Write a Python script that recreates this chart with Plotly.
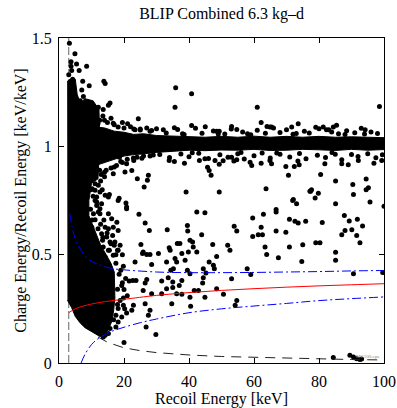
import plotly.graph_objects as go

# ---------------- data ----------------
# dense low-energy event mass (outline of solid-black region)
mass_x = [2.5, 5.0, 5.6, 6.5, 8.0, 10.5, 12.3, 12.5, 12.3, 12.0, 10.0, 9.2, 9.2, 10.5, 11.5,
          12.8, 14.5, 16.0, 17.0, 17.2, 17.2, 16.8, 16.2, 15.2, 14.0, 12.6, 11.0, 9.5, 8.0,
          6.5, 5.0, 3.9, 2.6]
mass_y = [1.30, 1.31, 1.24, 1.20, 1.22, 1.21, 1.17, 1.05, 0.95, 0.85, 0.83, 0.75, 0.68, 0.63, 0.60,
          0.545, 0.50, 0.46, 0.42, 0.36, 0.30, 0.24, 0.19, 0.155, 0.13, 0.122, 0.135, 0.148, 0.163,
          0.185, 0.215, 0.255, 0.29]

# electron-recoil band near 1 keV/keV (outline of solid core)
band_x = [11, 14, 17, 20, 23, 26, 30, 35, 40, 45, 50, 55, 60, 65, 70, 75, 80, 85, 90, 95, 100,
          100, 95, 90, 85, 80, 75, 70, 65, 60, 55, 50, 45, 40, 35, 30, 26, 23, 20, 17, 14, 11]
band_y = [1.09, 1.085, 1.07, 1.065, 1.055, 1.058, 1.05, 1.048, 1.045, 1.042, 1.046, 1.042, 1.047,
          1.042, 1.046, 1.042, 1.046, 1.042, 1.044, 1.042, 1.04,
          0.985, 0.982, 0.986, 0.981, 0.984, 0.986, 0.982, 0.981, 0.986, 0.982, 0.983, 0.98, 0.982,
          0.978, 0.972, 0.965, 0.962, 0.955, 0.94, 0.925, 0.91]

# fringe events around the band
fringe_x = [33, 36.5, 38, 42, 44, 47.5, 51, 53, 56.5, 58, 61, 63.5, 66, 68, 70, 73, 75.5, 77,
            80, 83, 86, 88.5, 91, 93, 96, 98, 38.5, 49, 59, 72, 88, 94, 45, 64, 79,
            31, 34, 37.5, 40, 43, 46, 49.5, 52, 55, 57, 60, 62.5, 65, 68, 71, 74, 76, 79.5, 82,
            85, 87, 90, 92, 95, 97.5, 99.5, 41, 56, 67, 84, 35.5, 50.5, 73.5,
            12.5, 13.5, 16, 19.5, 22, 25, 27, 13, 14.5, 16, 19, 21, 24, 26, 29,
            12, 14, 17, 20, 23, 25, 28, 12.5, 14, 17, 19.5, 23, 25.5, 28]
fringe_y = [1.062, 1.078, 1.058, 1.083, 1.06, 1.071, 1.057, 1.08, 1.066, 1.058, 1.074, 1.06, 1.085,
            1.064, 1.076, 1.059, 1.07, 1.062, 1.081, 1.077, 1.058, 1.072, 1.063, 1.084, 1.066, 1.059,
            1.055, 1.057, 1.054, 1.056, 1.055, 1.057, 1.09, 1.092, 1.088,
            0.962, 0.948, 0.965, 0.952, 0.968, 0.944, 0.961, 0.95, 0.966, 0.941, 0.957, 0.969,
            0.946, 0.963, 0.951, 0.967, 0.943, 0.959, 0.949, 0.964, 0.938, 0.962, 0.953, 0.966,
            0.947, 0.961, 0.97, 0.972, 0.969, 0.971, 0.93, 0.934, 0.932,
            1.12, 1.14, 1.13, 1.11, 1.09, 1.08, 1.085, 0.87, 0.89, 0.90, 0.93, 0.94, 0.95, 0.955, 0.96,
            1.105, 1.12, 1.10, 1.085, 1.08, 1.075, 1.07, 0.89, 0.88, 0.905, 0.925, 0.935, 0.945, 0.955]

# isolated events: high region (y > 1.1)
high_x = [3.2, 4.9, 3.7, 3.7, 5.4, 6.2, 3.9, 8.5, 7.3, 7.0, 9.3, 13.8, 14.2, 13.6, 15.2, 10.9,
          12.1, 15.7, 7.5, 6.5, 35.9, 35.7, 40.8, 61.0, 62.2, 98.6, 3.0, 4.2, 3.5,
          24.4, 21.1, 23.4, 18.2, 16.7, 14.9, 28.5, 30.0, 32.1, 35.5, 40.8, 53.1, 54.7, 48.5,
          49.3, 64.9, 73.6, 71.6, 81.3, 82.3, 84.4, 85.4, 83.9, 94.2, 65.4]
high_y = [1.476, 1.427, 1.39, 1.37, 1.38, 1.35, 1.35, 1.37, 1.30, 1.26, 1.28, 1.30, 1.29, 1.17,
          1.19, 1.18, 1.18, 1.20, 1.23, 1.21, 1.27, 1.18, 1.243, 1.18, 1.11, 1.184, 1.33, 1.31, 1.30,
          1.127, 1.104, 1.077, 1.089, 1.107, 1.11, 1.073, 1.081, 1.077, 1.086, 1.096, 1.092, 1.078,
          1.07, 1.07, 1.089, 1.104, 1.089, 1.089, 1.077, 1.089, 1.097, 1.066, 1.077, 1.089]

# isolated events: 0.75 - 0.95
mid_hi_x = [33.9, 38.6, 43.2, 44.9, 45.7, 46.2, 46.8, 48.0, 49.3, 53.1, 53.8, 54.7, 58.8, 59.3,
            62.2, 64.9, 39.1, 49.3, 63.7, 65.4, 69.8, 72.4, 73.9, 81.8, 87.0, 89.0, 92.1, 96.9,
            99.3, 70.6, 80.5, 85.1, 90.4, 94.5, 94.5, 95.2, 77.7, 77.2, 79.8, 78.8, 90.6, 72.1,
            27.5, 26.2, 24.1, 22.4, 20.3, 20.8, 17.7, 16.7, 15.2, 12.6, 11.6, 11.1, 22.9, 18.6,
            27.2, 13.3, 18.5, 14.2, 15.5, 77.4, 9.8, 10.5, 12.8, 14.0]
mid_hi_y = [0.935, 0.922, 0.935, 0.943, 0.904, 0.889, 0.866, 0.935, 0.917, 0.95, 0.932, 0.938,
            0.927, 0.912, 0.922, 0.935, 0.789, 0.789, 0.804, 0.92, 0.907, 0.907, 0.915, 0.92, 0.92,
            0.915, 0.935, 0.922, 0.935, 0.866, 0.870, 0.84, 0.824, 0.849, 0.80, 0.809, 0.80, 0.793,
            0.784, 0.761, 0.778, 0.755, 0.866, 0.812, 0.85, 0.889, 0.881, 0.92, 0.912, 0.874, 0.766,
            0.789, 0.766, 0.797, 0.946, 0.95, 0.843, 0.80, 0.76, 0.774, 0.778, 0.793, 0.80, 0.77,
            0.84, 0.86]

# isolated events: 0.48 - 0.75
mid_x = [18.2, 20.6, 20.8, 13.1, 12.6, 24.6, 42.4, 44.9, 26.5, 27.8, 33.3, 39.5, 39.6, 53.9, 54.7,
         15.2, 16.5, 14.7, 13.4, 17.2, 18.8, 25.2, 36.4, 37.2, 41.1, 47.3, 51.9, 40.3, 43.9,
         100.0, 95.7, 85.1, 71.9, 73.1, 66.8, 66.8, 62.9, 59.6, 62.2, 59.6, 61.3, 62.6, 66.8, 69.8,
         70.9, 72.6, 73.6, 75.9, 81.0, 87.8, 89.3, 91.8, 88.0, 90.1, 93.4, 87.0, 91.6, 92.6,
         11.1, 12.1, 10.2, 11.1, 11.6, 12.1, 10.6, 11.1, 10.1, 15.2, 16.2, 14.2, 16.7, 18.2, 17.8,
         13.1, 15.7, 17.0, 18.2, 13.6, 15.2, 16.7, 14.2, 20.8, 11.6, 12.6,
         9.7, 10.2, 12.0, 13.5, 12.8, 13.8, 14.8, 16.0, 17.5, 15.5]
mid_y = [0.75, 0.738, 0.712, 0.735, 0.689, 0.686, 0.697, 0.694, 0.646, 0.612, 0.615, 0.635, 0.609,
         0.631, 0.609, 0.62, 0.589, 0.581, 0.566, 0.558, 0.543, 0.547, 0.551, 0.551, 0.558, 0.547,
         0.543, 0.566, 0.592,
         0.723, 0.743, 0.735, 0.75, 0.735, 0.709, 0.697, 0.686, 0.669, 0.627, 0.584, 0.592, 0.592,
         0.609, 0.604, 0.663, 0.654, 0.646, 0.654, 0.648, 0.681, 0.655, 0.664, 0.612, 0.615, 0.632,
         0.592, 0.589, 0.555,
         0.827, 0.82, 0.804, 0.75, 0.727, 0.697, 0.689, 0.661, 0.627, 0.689, 0.666, 0.627, 0.627,
         0.612, 0.65, 0.597, 0.558, 0.543, 0.52, 0.535, 0.52, 0.497, 0.489, 0.72, 0.743, 0.712,
         0.71, 0.66, 0.62, 0.58, 0.64, 0.66, 0.60, 0.55, 0.50, 0.52]

# isolated events: below 0.55
low_x = [25.9, 25.7, 27.0, 28.0, 30.6, 33.9, 34.2, 41.3, 42.4, 48.5, 46.2, 47.5, 47.8, 52.6, 39.8,
         38.8, 35.7, 36.2, 35.2, 33.1, 28.5, 23.4, 19.8, 19.0, 44.4, 45.2, 39.5, 40.3, 34.4, 53.1,
         37.8, 37.0, 33.6, 35.0, 31.6, 27.0, 26.5, 25.9, 21.6, 22.7, 23.7, 19.3, 20.0, 28.5, 31.6,
         33.1, 35.0, 36.2, 37.8, 41.6, 42.9, 48.5, 50.6, 40.3, 34.7, 40.5, 44.9, 54.7, 54.2, 22.9,
         22.4, 20.8, 26.5, 28.0, 27.5, 18.8, 19.8, 18.2, 19.3, 18.2, 17.5, 15.7, 15.2, 14.2, 13.6,
         26.8, 29.8, 20.0, 37.8, 44.4, 44.2, 63.4, 63.9, 67.5, 70.9, 75.0, 79.0, 80.3, 74.7, 85.1,
         85.1, 57.9, 59.0, 90.6, 99.6,
         18.0, 19.5, 17.5, 18.5, 20.5, 19.5, 18.0, 21.0, 19.8, 18.0, 20.2, 17.5, 16.8,
         84.4, 89.5, 90.6, 91.6, 92.6, 93.1]
low_y = [0.512, 0.505, 0.501, 0.501, 0.505, 0.532, 0.52, 0.535, 0.512, 0.492, 0.466, 0.451, 0.435,
         0.52, 0.512, 0.474, 0.482, 0.466, 0.435, 0.466, 0.455, 0.466, 0.446, 0.428, 0.435, 0.415,
         0.428, 0.412, 0.428, 0.389, 0.381, 0.358, 0.394, 0.374, 0.378, 0.385, 0.369, 0.335, 0.378,
         0.381, 0.381, 0.358, 0.339, 0.32, 0.32, 0.343, 0.348, 0.32, 0.317, 0.335, 0.335, 0.343,
         0.317, 0.304, 0.274, 0.262, 0.304, 0.289, 0.266, 0.266, 0.243, 0.231, 0.274, 0.243, 0.22,
         0.289, 0.266, 0.251, 0.212, 0.189, 0.166, 0.159, 0.136, 0.128, 0.12, 0.166, 0.132, 0.095,
         0.505, 0.394, 0.369, 0.535, 0.501, 0.486, 0.535, 0.546, 0.555, 0.555, 0.469, 0.511, 0.474,
         0.435, 0.409, 0.412, 0.418,
         0.52, 0.50, 0.46, 0.41, 0.39, 0.37, 0.34, 0.31, 0.30, 0.27, 0.25, 0.22, 0.20,
         0.025, 0.036, 0.028, 0.02, 0.016, 0.018]

# nuclear-recoil band mean (red) and bounds (blue dash-dot)
nr_mean_x = [3, 5, 8, 12, 16, 20, 30, 40, 50, 60, 70, 80, 90, 100]
nr_mean_y = [0.232, 0.25, 0.265, 0.278, 0.287, 0.294, 0.312, 0.325, 0.335, 0.343, 0.350, 0.356,
             0.361, 0.366]
nr_upper_x = [3.3, 4, 5, 6, 8, 10, 13, 16, 20, 30, 40, 50, 60, 70, 80, 90, 100]
nr_upper_y = [0.69, 0.63, 0.575, 0.54, 0.495, 0.47, 0.45, 0.437, 0.43, 0.42, 0.417, 0.417, 0.418,
              0.42, 0.422, 0.425, 0.427]
nr_lower_x = [6.8, 8, 10, 12, 14, 16, 20, 25, 30, 40, 50, 60, 70, 80, 90, 100]
nr_lower_y = [0.0, 0.04, 0.085, 0.112, 0.13, 0.145, 0.165, 0.186, 0.203, 0.232, 0.25, 0.263, 0.275,
              0.288, 0.297, 0.305]

# ionization threshold curve (black dashed) and recoil threshold (x = 3 keV)
thr_x = [12, 15, 20, 25, 30, 40, 50, 60, 70, 80, 90, 100]
thr_y = [0.12, 0.095, 0.07, 0.057, 0.048, 0.037, 0.03, 0.026, 0.022, 0.019, 0.016, 0.014]
recoil_thr_x = [3, 3]
recoil_thr_y = [0, 1.5]

x_ticks = [0, 20, 40, 60, 80, 100]
y_ticks = [0, 0.5, 1, 1.5]
y_tick_text = ["0", "0.5", "1", "1.5"]

# ---------------- figure ----------------
FONT = "Liberation Serif"
fig = go.Figure()

fig.add_trace(go.Scatter(x=recoil_thr_x, y=recoil_thr_y, mode="lines",
                         line=dict(color="#666666", width=1, dash="8px,3px"), hoverinfo="skip"))
fig.add_trace(go.Scatter(x=mass_x, y=mass_y, mode="lines", fill="toself", fillcolor="black",
                         line=dict(color="black", width=1), hoverinfo="skip"))
fig.add_trace(go.Scatter(x=band_x, y=band_y, mode="lines", fill="toself", fillcolor="black",
                         line=dict(color="black", width=1), hoverinfo="skip"))
for xs, ys in [(fringe_x, fringe_y), (high_x, high_y), (mid_hi_x, mid_hi_y), (mid_x, mid_y),
               (low_x, low_y)]:
    fig.add_trace(go.Scatter(x=xs, y=ys, mode="markers",
                             marker=dict(color="black", size=5, line=dict(width=0))))

fig.add_trace(go.Scatter(x=thr_x, y=thr_y, mode="lines",
                         line=dict(color="#222222", width=1, dash="10px,7px")))
fig.add_trace(go.Scatter(x=nr_mean_x, y=nr_mean_y, mode="lines", line=dict(color="red", width=1),
                         line_shape="spline"))
fig.add_trace(go.Scatter(x=nr_upper_x, y=nr_upper_y, mode="lines", line_shape="spline",
                         line=dict(color="blue", width=1, dash="9px,3px,2px,3px")))
fig.add_trace(go.Scatter(x=nr_lower_x, y=nr_lower_y, mode="lines", line_shape="spline",
                         line=dict(color="blue", width=1, dash="9px,3px,2px,3px")))

fig.add_annotation(x=95, y=0.028, text="MC100.eps", showarrow=False,
                   font=dict(size=5, color="#888888", family=FONT))

axis_common = dict(showline=True, linecolor="black", linewidth=1, mirror="ticks",
                   ticks="inside", ticklen=5, tickcolor="black", showgrid=False, zeroline=False,
                   automargin=False,
                   tickfont=dict(family=FONT, size=16, color="black"))
fig.update_layout(
    width=397, height=408,
    margin=dict(l=59, r=13, t=38, b=45),
    paper_bgcolor="white", plot_bgcolor="white",
    showlegend=False,
    title=dict(text="BLIP Combined 6.3 kg\u2013d", x=0.558, xanchor="center",
               y=1 - 13 / 408, yanchor="middle", yref="container",
               font=dict(family=FONT, size=16, color="black")),
    xaxis=dict(range=[0, 100], tickvals=x_ticks, ticklabelstandoff=4, **axis_common,
               title=dict(text="Recoil Energy [keV]", standoff=2,
                          font=dict(family=FONT, size=16, color="black"))),
    yaxis=dict(range=[0, 1.5], tickvals=y_ticks, ticktext=y_tick_text, ticklabelstandoff=3,
               **axis_common,
               title=dict(text="Charge Energy/Recoil Energy [keV/keV]", standoff=1,
                          font=dict(family=FONT, size=16, color="black"))),
)
fig.write_html("out.html")
